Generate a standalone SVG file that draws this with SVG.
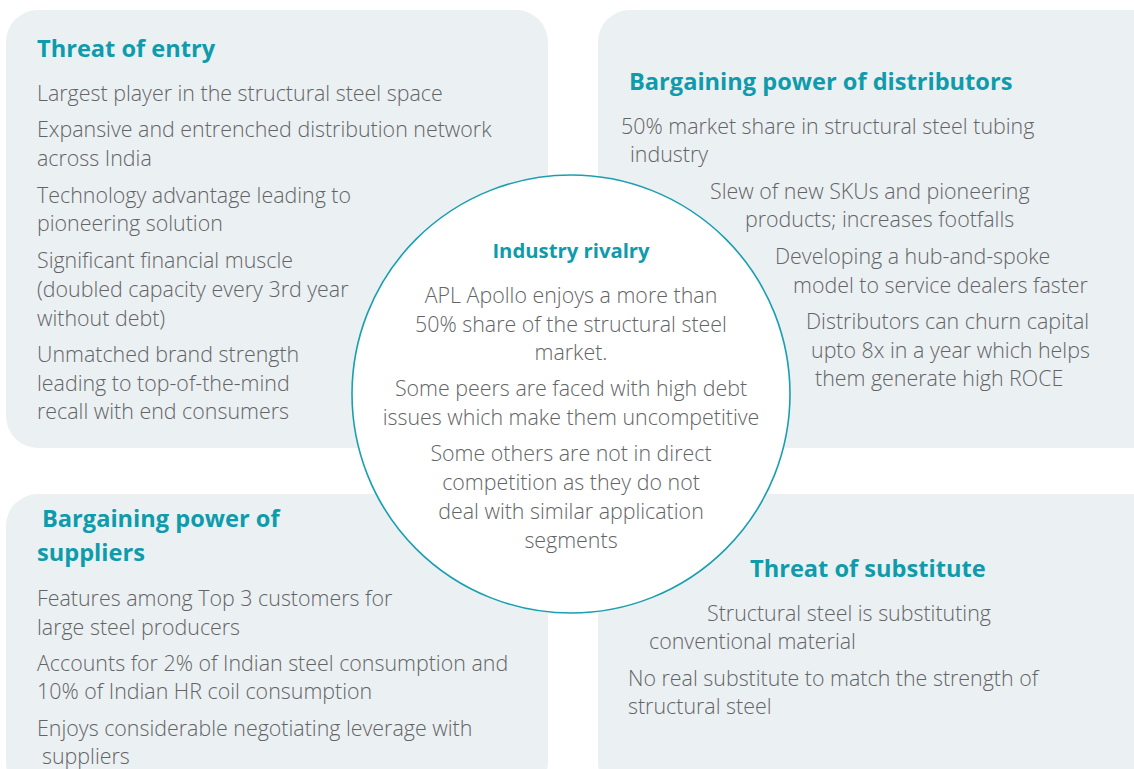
<svg xmlns="http://www.w3.org/2000/svg" width="1134" height="769" viewBox="0 0 1134 769">
<style>
.box{fill:#ebf0f3}
.t{font-family:"Open Sans","Liberation Sans",sans-serif;font-weight:700;fill:#0e9bab;font-size:23.6px}
.b{font-family:"Open Sans","Liberation Sans",sans-serif;font-weight:300;fill:#636466;font-size:21.4px}
.c{text-anchor:middle}
</style>
<rect width="1134" height="769" fill="#fff"/>
<g id="threat-entry">
<rect class="box" x="6" y="10" width="542" height="438" rx="32"/>
<text class="t" x="37" y="57">Threat of entry</text>
<text class="b" x="37" y="101">Largest player in the structural steel space</text>
<text class="b" x="37" y="137">Expansive and entrenched distribution network</text>
<text class="b" x="37" y="166">across India</text>
<text class="b" x="37" y="203">Technology advantage leading to</text>
<text class="b" x="37" y="231">pioneering solution</text>
<text class="b" x="37" y="268">Significant financial muscle</text>
<text class="b" x="37" y="297">(doubled capacity every 3rd year</text>
<text class="b" x="37" y="326">without debt)</text>
<text class="b" x="37" y="362">Unmatched brand strength</text>
<text class="b" x="37" y="391">leading to top-of-the-mind</text>
<text class="b" x="37" y="419">recall with end consumers</text>
</g>
<g id="bargaining-distributors">
<rect class="box" x="598" y="10" width="570" height="438" rx="32"/>
<text class="t" x="629" y="90">Bargaining power of distributors</text>
<text class="b" x="621" y="134">50% market share in structural steel tubing</text>
<text class="b" x="630" y="162">industry</text>
<text class="b" x="710" y="199">Slew of new SKUs and pioneering</text>
<text class="b" x="745" y="227">products; increases footfalls</text>
<text class="b" x="775" y="264">Developing a hub-and-spoke</text>
<text class="b" x="793" y="293">model to service dealers faster</text>
<text class="b" x="806" y="329">Distributors can churn capital</text>
<text class="b" x="811" y="358">upto 8x in a year which helps</text>
<text class="b" x="815" y="386">them generate high ROCE</text>
</g>
<g id="bargaining-suppliers">
<rect class="box" x="6" y="494" width="542" height="300" rx="32"/>
<text class="t" x="42" y="527">Bargaining power of</text>
<text class="t" x="37" y="561">suppliers</text>
<text class="b" x="37" y="606">Features among Top 3 customers for</text>
<text class="b" x="37" y="635">large steel producers</text>
<text class="b" x="37" y="671">Accounts for 2% of Indian steel consumption and</text>
<text class="b" x="37" y="699">10% of Indian HR coil consumption</text>
<text class="b" x="37" y="736">Enjoys considerable negotiating leverage with</text>
<text class="b" x="42" y="764">suppliers</text>
</g>
<g id="threat-substitute">
<rect class="box" x="598" y="494" width="570" height="300" rx="32"/>
<text class="t" x="750" y="577">Threat of substitute</text>
<text class="b" x="707" y="621">Structural steel is substituting</text>
<text class="b" x="649" y="649">conventional material</text>
<text class="b" x="628" y="686">No real substitute to match the strength of</text>
<text class="b" x="628" y="714">structural steel</text>
</g>
<g id="industry-rivalry">
<circle cx="571" cy="394" r="219" fill="#fff" stroke="#1a9fb0" stroke-width="1.6"/>
<text class="t c" x="571" y="258" style="font-size:20.3px">Industry rivalry</text>
<text class="b c" x="571" y="303">APL Apollo enjoys a more than</text>
<text class="b c" x="571" y="332">50% share of the structural steel</text>
<text class="b c" x="571" y="360">market.</text>
<text class="b c" x="571" y="396">Some peers are faced with high debt</text>
<text class="b c" x="571" y="425">issues which make them uncompetitive</text>
<text class="b c" x="571" y="461">Some others are not in direct</text>
<text class="b c" x="571" y="490">competition as they do not</text>
<text class="b c" x="571" y="519">deal with similar application</text>
<text class="b c" x="571" y="548">segments</text>
</g>
</svg>
